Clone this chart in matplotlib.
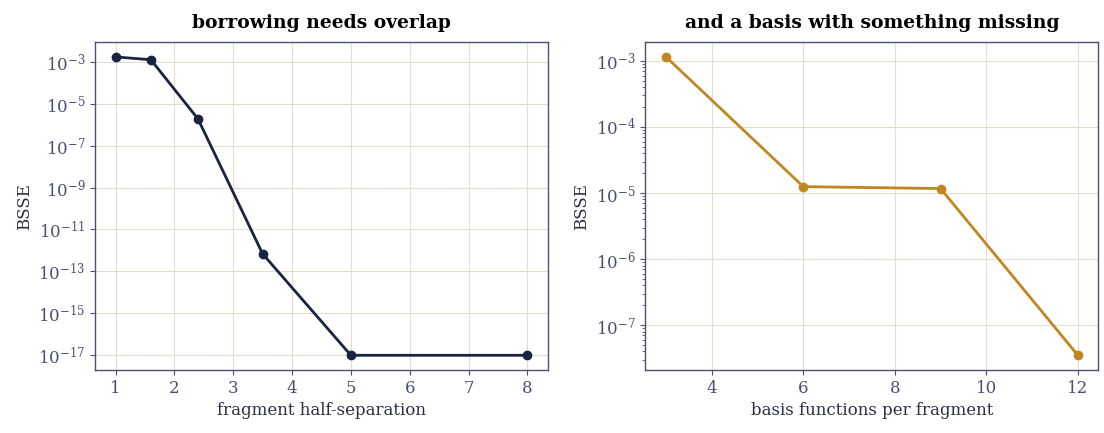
import numpy as np
import matplotlib
matplotlib.use("Agg")
import matplotlib.pyplot as plt
import matplotlib.ticker as mticker

# left panel: BSSE vs fragment half-separation
sep = [1.0, 1.6, 2.4, 3.5, 5.0, 8.0]
bsse_sep = [1.7e-3, 1.25e-3, 1.9e-6, 6.9e-13, 1e-17, 1e-17]
sep_yticks = [1e-17, 1e-15, 1e-13, 1e-11, 1e-9, 1e-7, 1e-5, 1e-3]

# right panel: BSSE vs basis size
nbasis = [3, 6, 9, 12]
bsse_basis = [1.15e-3, 1.25e-5, 1.17e-5, 3.5e-8]

navy = "#1a2340"
gold = "#c0861f"
spine_col = "#4a5078"
tick_col = "#4a5070"
grid_col = "#e2ddcf"
label_col = "#2a2f45"

plt.rcParams['font.family'] = ['DejaVu Serif']
plt.rcParams['mathtext.fontset'] = 'dejavuserif'

fig, axs = plt.subplots(1, 2, figsize=(11.04, 4.33), dpi=100)

axs[0].plot(sep, bsse_sep, '-o', color=navy, linewidth=2, markersize=6)
axs[0].set_yscale('log')
axs[0].yaxis.set_major_locator(mticker.FixedLocator(sep_yticks))
axs[0].yaxis.set_minor_locator(mticker.NullLocator())
axs[0].set_xlabel('fragment half-separation', fontsize=12, color=label_col)
axs[0].set_ylabel('BSSE', fontsize=12, color=label_col)
axs[0].set_title('borrowing needs overlap', fontsize=13.5, fontweight='bold', pad=10)

axs[1].plot(nbasis, bsse_basis, '-o', color=gold, linewidth=2, markersize=6)
axs[1].set_yscale('log')
axs[1].set_xlabel('basis functions per fragment', fontsize=12, color=label_col)
axs[1].set_ylabel('BSSE', fontsize=12, color=label_col)
axs[1].set_title('and a basis with something missing', fontsize=13.5, fontweight='bold', pad=10)

for ax in axs:
    ax.grid(True, which='major', color=grid_col, linewidth=0.8)
    ax.set_axisbelow(True)
    for s in ax.spines.values():
        s.set_color(spine_col)
        s.set_linewidth(1.0)
    ax.tick_params(axis='both', which='both', colors=spine_col, labelcolor=tick_col, labelsize=12)

fig.subplots_adjust(left=0.086, right=0.995, top=0.903, bottom=0.145, wspace=0.215)
fig.savefig('out.png', dpi=100)
